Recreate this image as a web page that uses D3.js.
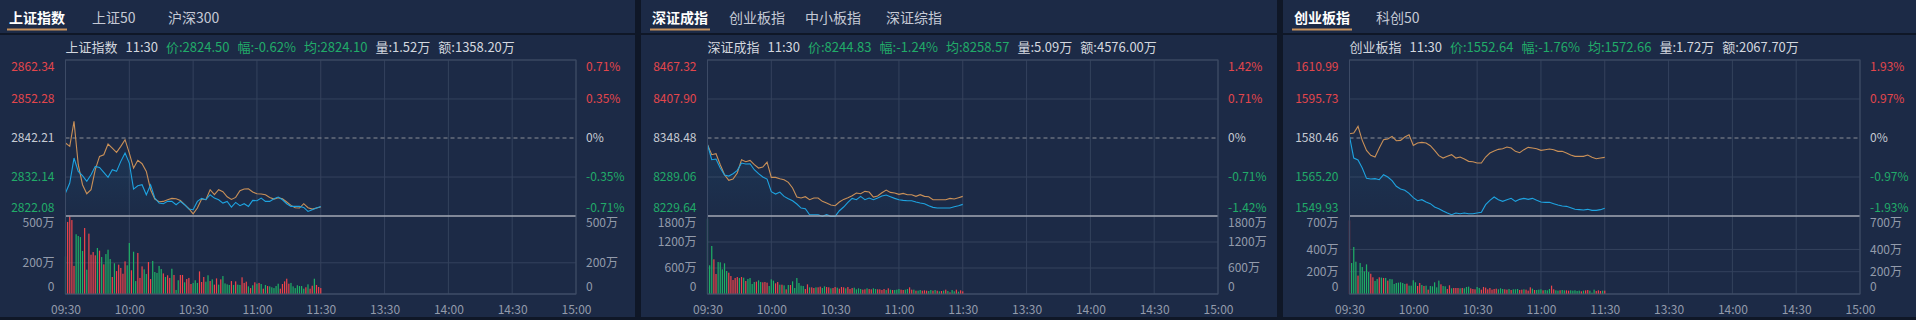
<!DOCTYPE html>
<html>
<head>
<meta charset="utf-8">
<script src="https://cdn.jsdelivr.net/npm/d3@7"></script>
<style>
  body { margin: 0; background: #0f1727; overflow: hidden; }
  svg { display: block; font-family: "Noto Sans CJK SC", "Noto Sans", sans-serif; }
</style>
</head>
<body>
<script>
const width = 1916;
const height = 320;

// shared time axis (minutes from 09:30, lunch break removed)
const timeTicks = [0, 30, 60, 90, 120, 150, 180, 210, 240];
const timeLabels = ["09:30", "10:00", "10:30", "11:00", "11:30", "13:30", "14:00", "14:30", "15:00"];

// ---- 上证指数 ----
const shTabs = ["上证指数", "上证50", "沪深300"];
const shInfo = ["上证指数", "11:30", "价:2824.50", "幅:-0.62%", "均:2824.10", "量:1.52万", "额:1358.20万"];
const shPriceTicks = [2822.08, 2832.14, 2842.21, 2852.28, 2862.34];
const shPctTicks = ["-0.71%", "-0.35%", "0%", "0.35%", "0.71%"];
const shVolTicks = [0, 200, 500];
// every 2 minutes
const shPrice = [2828.00, 2830.58, 2837.04, 2833.60, 2832.48, 2831.01, 2832.73, 2834.89, 2834.63, 2833.34,
  2832.05, 2834.03, 2833.60, 2836.18, 2838.33, 2835.75, 2829.03, 2829.89, 2830.15, 2827.57,
  2830.15, 2826.71, 2825.42, 2825.25, 2825.85, 2825.85, 2824.99, 2825.85, 2824.99, 2823.87,
  2823.70, 2825.85, 2826.62, 2826.28, 2827.57, 2826.71, 2826.28, 2825.42, 2825.85, 2824.39,
  2825.59, 2824.73, 2825.25, 2824.56, 2826.11, 2826.02, 2826.71, 2825.85, 2825.85, 2826.54,
  2826.97, 2826.28, 2825.25, 2824.56, 2824.56, 2824.56, 2824.30, 2823.27, 2823.70, 2824.13, 2824.56];
const shAvg = [2840.91, 2840.05, 2846.51, 2835.32, 2830.15, 2827.83, 2828.86, 2834.03, 2837.47, 2837.90,
  2840.65, 2839.62, 2838.50, 2840.05, 2841.77, 2838.33, 2834.46, 2836.44, 2835.57, 2833.60,
  2828.86, 2826.45, 2825.76, 2825.85, 2826.28, 2826.62, 2826.54, 2826.11, 2824.99, 2823.96,
  2822.66, 2824.13, 2826.45, 2826.28, 2828.86, 2827.57, 2828.86, 2828.34, 2827.05, 2826.36,
  2826.88, 2828.60, 2829.03, 2829.12, 2828.26, 2827.83, 2827.74, 2827.57, 2826.88, 2826.45,
  2826.79, 2826.54, 2825.68, 2824.82, 2824.21, 2824.13, 2825.25, 2824.21, 2823.87, 2824.13, 2824.39];
// per minute, 万
const shVol = [241, 462, 498, 474, 180, 383, 372, 365, 276, 423,
  156, 387, 252, 269, 248, 295, 278, 237, 190, 256,
  284, 224, 109, 197, 147, 188, 167, 130, 209, 184,
  327, 152, 271, 83, 263, 103, 177, 158, 128, 205,
  96, 212, 141, 135, 180, 160, 132, 109, 120, 103,
  162, 122, 26, 88, 122, 122, 75, 96, 103, 64,
  71, 88, 71, 145, 77, 109, 79, 120, 83, 94,
  60, 100, 60, 94, 115, 68, 62, 58, 83, 58,
  81, 60, 58, 107, 71, 79, 49, 38, 56, 75,
  66, 71, 64, 34, 58, 51, 49, 43, 38, 51,
  66, 34, 64, 81, 98, 66, 71, 49, 38, 56,
  51, 51, 34, 43, 62, 34, 53, 98, 58, 45,
  38];
const shDir = "grrrrggggr" + "grrrrgrgrg" + "ggrgrrrrrg" + "grggrrrggr" + "rgggggrgrr" + "grggrrgrrr" +
  "gggrrrggrg" + "rrgrggggrg" + "rggrrrgrgr" + "grgrgrgggg" + "grrrrrgggg" + "gggrgrrgrr" + "r";

// ---- 深证成指 ----
const szTabs = ["深证成指", "创业板指", "中小板指", "深证综指"];
const szInfo = ["深证成指", "11:30", "价:8244.83", "幅:-1.24%", "均:8258.57", "量:5.09万", "额:4576.00万"];
const szPriceTicks = [8229.64, 8289.06, 8348.48, 8407.90, 8467.32];
const szPctTicks = ["-1.42%", "-0.71%", "0%", "0.71%", "1.42%"];
const szVolTicks = [0, 600, 1200, 1800];
const szPrice = [8338.26, 8315.41, 8316.42, 8302.71, 8292.04, 8290.52, 8294.08, 8299.16, 8310.33, 8308.81,
  8309.31, 8300.17, 8294.08, 8289.00, 8285.95, 8266.65, 8263.09, 8266.14, 8259.54, 8255.98,
  8252.94, 8247.86, 8241.76, 8240.75, 8231.60, 8231.60, 8231.60, 8229.07, 8231.60, 8229.07,
  8229.07, 8237.70, 8243.29, 8250.40, 8256.49, 8254.46, 8259.54, 8254.46, 8257.00, 8254.46,
  8257.00, 8260.05, 8261.57, 8259.03, 8256.49, 8254.46, 8253.45, 8252.94, 8252.94, 8250.91,
  8249.38, 8248.37, 8245.32, 8242.78, 8241.76, 8241.76, 8241.76, 8241.76, 8243.79, 8245.32, 8247.35];
const szAvg = [8338.26, 8323.03, 8324.55, 8307.79, 8292.55, 8283.92, 8285.95, 8295.09, 8315.41, 8312.36,
  8314.39, 8307.79, 8302.71, 8304.23, 8311.85, 8288.49, 8288.49, 8286.46, 8284.93, 8280.87,
  8272.24, 8258.52, 8257.00, 8259.03, 8254.46, 8257.00, 8257.00, 8251.92, 8249.38, 8246.33,
  8245.32, 8250.91, 8254.97, 8257.51, 8260.56, 8264.62, 8263.61, 8267.16, 8266.15, 8258.52,
  8260.05, 8265.13, 8269.19, 8265.63, 8264.62, 8262.59, 8264.11, 8262.08, 8262.08, 8259.54,
  8262.08, 8259.54, 8259.03, 8254.46, 8254.46, 8254.46, 8254.46, 8256.49, 8255.48, 8257.51, 8259.54];
const szVol = [1738, 662, 1108, 800, 462, 738, 731, 569, 708, 531,
  492, 415, 323, 369, 392, 369, 392, 377, 300, 346,
  369, 231, 277, 285, 315, 277, 269, 277, 262, 185,
  338, 308, 246, 277, 215, 215, 200, 108, 208, 208,
  292, 138, 369, 254, 192, 185, 115, 223, 154, 154,
  138, 154, 154, 169, 138, 177, 162, 154, 131, 138,
  162, 146, 123, 162, 154, 131, 162, 115, 138, 146,
  108, 131, 115, 100, 108, 131, 115, 108, 131, 115,
  108, 108, 92, 115, 92, 131, 100, 92, 92, 100,
  115, 100, 92, 100, 115, 154, 100, 100, 77, 77,
  92, 77, 85, 77, 69, 92, 77, 92, 77, 62,
  69, 77, 100, 69, 38, 92, 62, 100, 54, 85,
  62];
const szDir = "gggrrggggg" + "rrrrrgrgrg" + "gggrggrrrg" + "ggrrgrgrgr" + "ggggggrrgr" + "rgrrggrrgr" +
  "rgrrrgrrrg" + "gggrrgrrgg" + "rrrrgrgrgg" + "grrggrrgrg" + "grrrggrgrg" + "rgrgrggrgr" + "r";

// ---- 创业板指 ----
const cyTabs = ["创业板指", "科创50"];
const cyInfo = ["创业板指", "11:30", "价:1552.64", "幅:-1.76%", "均:1572.66", "量:1.72万", "额:2067.70万"];
const cyPriceTicks = [1549.93, 1565.20, 1580.46, 1595.73, 1610.99];
const cyPctTicks = ["-1.93%", "-0.97%", "0%", "0.97%", "1.93%"];
const cyVolTicks = [0, 200, 400, 700];
const cyPrice = [1581.10, 1572.62, 1571.84, 1568.71, 1564.67, 1564.41, 1564.54, 1564.15, 1566.10, 1565.19,
  1563.76, 1561.54, 1560.50, 1559.97, 1558.80, 1557.10, 1555.93, 1556.32, 1555.41, 1554.76,
  1553.45, 1552.80, 1551.89, 1551.10, 1550.45, 1551.10, 1550.84, 1551.10, 1550.84, 1550.84,
  1551.10, 1551.37, 1554.36, 1556.06, 1557.36, 1556.32, 1555.67, 1556.32, 1556.84, 1555.67,
  1556.45, 1556.84, 1556.45, 1556.84, 1556.06, 1555.41, 1555.28, 1555.28, 1554.76, 1554.23,
  1553.84, 1553.71, 1553.19, 1552.54, 1552.41, 1552.28, 1552.54, 1552.15, 1552.15, 1552.41, 1552.93];
const cyAvg = [1582.15, 1582.41, 1585.02, 1579.54, 1575.62, 1573.67, 1573.02, 1576.54, 1579.80, 1580.06,
  1581.10, 1579.41, 1579.54, 1580.84, 1581.75, 1577.58, 1578.49, 1578.75, 1578.49, 1577.45,
  1575.62, 1573.54, 1572.62, 1573.28, 1573.93, 1572.62, 1573.02, 1572.23, 1571.32, 1571.19,
  1570.67, 1570.67, 1573.02, 1574.58, 1575.36, 1576.02, 1576.28, 1576.93, 1576.54, 1575.23,
  1574.71, 1575.89, 1576.80, 1576.54, 1576.28, 1575.62, 1575.89, 1576.15, 1575.89, 1575.23,
  1575.23, 1574.58, 1573.80, 1573.28, 1573.28, 1573.28, 1573.80, 1572.89, 1572.37, 1572.63, 1572.89];
const cyVol = [661, 278, 422, 290, 165, 278, 242, 203, 266, 197,
  182, 150, 117, 135, 150, 147, 144, 144, 120, 135,
  132, 90, 99, 102, 105, 99, 90, 93, 75, 75,
  123, 105, 72, 99, 81, 72, 75, 39, 72, 69,
  105, 60, 120, 87, 72, 69, 45, 78, 51, 54,
  54, 54, 51, 54, 51, 63, 66, 51, 45, 42,
  63, 54, 39, 63, 57, 42, 54, 39, 45, 48,
  42, 51, 45, 42, 39, 45, 36, 42, 42, 45,
  36, 39, 42, 39, 30, 60, 48, 36, 36, 39,
  42, 33, 36, 33, 45, 75, 42, 33, 30, 33,
  36, 33, 33, 30, 33, 30, 33, 27, 30, 24,
  30, 33, 36, 30, 12, 39, 27, 33, 27, 30,
  30];
const cyDir = "rgggrggggg" + "rrggrgrgrg" + "gggggggrgg" + "ggrrgrgrgg" + "gggrggrrgr" + "rrgrgggrrr" +
  "ggrrrrrrrr" + "gggrrgrggg" + "rrgrrrgrgg" + "grgggrrggr" + "ggrrgggggr" + "grrgggrrrg" + "r";

const RED = "#ef444b", GREEN = "#1fb066", TXT_RED = "#e3464c", TXT_GREEN = "#21ab69";
const GRID = "#34425d", AXIS_TXT = "#939bab";

const svg = d3.select("body").append("svg")
  .attr("width", width)
  .attr("height", height);

svg.append("rect").attr("width", width).attr("height", height).attr("fill", "#0f1727");

// tabX: where each tab label starts inside its panel
const panels = [
  { x0: -1, tabs: shTabs, tabX: [10, 93, 169], info: shInfo, priceTicks: shPriceTicks, pct: shPctTicks,
    volTicks: shVolTicks, price: shPrice, avg: shAvg, vol: shVol, dir: shDir },
  { x0: 641, tabs: szTabs, tabX: [11, 88, 164, 245], info: szInfo, priceTicks: szPriceTicks, pct: szPctTicks,
    volTicks: szVolTicks, price: szPrice, avg: szAvg, vol: szVol, dir: szDir },
  { x0: 1283, tabs: cyTabs, tabX: [11, 93], info: cyInfo, priceTicks: cyPriceTicks, pct: cyPctTicks,
    volTicks: cyVolTicks, price: cyPrice, avg: cyAvg, vol: cyVol, dir: cyDir }
];

const defs = svg.append("defs");
const grad = defs.append("linearGradient").attr("id", "areaGrad")
  .attr("x1", 0).attr("y1", 0).attr("x2", 0).attr("y2", 1);
grad.append("stop").attr("offset", "0%").attr("stop-color", "#1e9fdc").attr("stop-opacity", 0.09);
grad.append("stop").attr("offset", "100%").attr("stop-color", "#1e9fdc").attr("stop-opacity", 0.01);

panels.forEach(drawPanel);

function drawPanel(p) {
  const g = svg.append("g").attr("transform", `translate(${p.x0},0)`);
  const pw = 636;
  const top = 60, mid = 216, bottom = 294;

  g.append("rect").attr("width", pw).attr("height", 317).attr("fill", "#1c2a46");
  g.append("rect").attr("y", 33).attr("width", pw).attr("height", 2).attr("fill", "#0f1727");

  // tabs
  p.tabs.forEach((t, i) => {
    const tx = p.tabX[i];
    const txt = g.append("text")
      .attr("x", tx).attr("y", 17)
      .attr("dominant-baseline", "central")
      .style("font-size", "14px")
      .style("font-weight", i === 0 ? "bold" : "normal")
      .style("fill", i === 0 ? "#ffffff" : "#c4c9d5")
      .text(t);
    if (i === 0) {
      const w = txt.node().getComputedTextLength();
      g.append("rect").attr("x", tx - 2).attr("y", 28.5).attr("width", w + 4).attr("height", 2)
        .attr("fill", "#c8915b");
    }
  });

  // info line
  let ix = 66.5;
  p.info.forEach((t, i) => {
    const txt = g.append("text")
      .attr("x", ix).attr("y", 46)
      .attr("dominant-baseline", "central")
      .style("font-size", "13px")
      .style("fill", i >= 2 && i <= 4 ? TXT_GREEN : "#d3d7df")
      .text(t);
    ix += txt.node().getComputedTextLength() + 8;
  });

  const x = d3.scaleLinear().domain([0, 240]).range([66.5, 577]);
  const y = d3.scaleLinear().domain([p.priceTicks[0], p.priceTicks[4]]).range([mid, top]);
  const yv = d3.scaleLinear().domain([0, d3.max(p.volTicks)]).range([bottom, mid]);
  const preClose = p.priceTicks[2];

  // grid
  const grid = g.append("g").attr("fill", "none");
  grid.selectAll(".vg").data(timeTicks).enter().append("line")
    .attr("x1", d => x(d)).attr("x2", d => x(d))
    .attr("y1", top).attr("y2", bottom)
    .attr("stroke", GRID).attr("stroke-width", 1);
  grid.selectAll(".hg").data(p.priceTicks.filter(d => d !== preClose && d !== p.priceTicks[0])).enter().append("line")
    .attr("x1", x(0)).attr("x2", x(240))
    .attr("y1", d => y(d)).attr("y2", d => y(d))
    .attr("stroke", GRID);
  grid.selectAll(".vh").data(p.volTicks.slice(1, -1)).enter().append("line")
    .attr("x1", x(0)).attr("x2", x(240))
    .attr("y1", d => yv(d)).attr("y2", d => yv(d))
    .attr("stroke", GRID);
  grid.append("line")
    .attr("x1", x(0)).attr("x2", x(240)).attr("y1", y(preClose)).attr("y2", y(preClose))
    .attr("stroke", "#8a8e96").attr("stroke-dasharray", "4,3");
  grid.append("line")
    .attr("x1", x(0)).attr("x2", x(240)).attr("y1", bottom).attr("y2", bottom)
    .attr("stroke", "#45536e");

  // volume bars
  g.append("g").selectAll("rect").data(p.vol).enter().append("rect")
    .attr("x", (d, i) => x(i) - 0.6)
    .attr("width", 1.2)
    .attr("y", d => yv(d))
    .attr("height", d => bottom - yv(d))
    .attr("fill", (d, i) => p.dir[i] === "r" ? RED : GREEN);

  // price area + lines
  const area = d3.area().x((d, i) => x(i * 2)).y0(mid).y1(d => y(d));
  g.append("path").datum(p.price).attr("d", area).attr("fill", "url(#areaGrad)");

  const line = d3.line().x((d, i) => x(i * 2)).y(d => y(d));
  g.append("path").datum(p.avg).attr("d", line)
    .attr("fill", "none").attr("stroke", "#c99058").attr("stroke-width", 1.1);
  g.append("path").datum(p.price).attr("d", line)
    .attr("fill", "none").attr("stroke", "#1ea3e0").attr("stroke-width", 1.1);

  // separator between price and volume
  g.append("line")
    .attr("x1", x(0)).attr("x2", x(240)).attr("y1", mid).attr("y2", mid)
    .attr("stroke", "#a3a9b4").attr("stroke-width", 1.3);

  const priceColor = d => d > preClose ? TXT_RED : (d < preClose ? TXT_GREEN : "#c7cbd3");

  // price axes
  const left = g.append("g").attr("transform", `translate(${x(0)},0)`)
    .call(d3.axisLeft(y).tickValues(p.priceTicks).tickSize(0).tickPadding(11).tickFormat(d => d.toFixed(2)));
  const right = g.append("g").attr("transform", `translate(${x(240)},0)`)
    .call(d3.axisRight(y).tickValues(p.priceTicks).tickSize(0).tickPadding(10).tickFormat((d, i) => p.pct[i]));
  [left, right].forEach(ax => {
    ax.select(".domain").remove();
    ax.attr("font-family", null).attr("font-size", null);
    ax.selectAll("text")
      .style("font-size", "12px")
      .style("fill", d => priceColor(d))
      .attr("transform", (d, i) => i === 0 ? "translate(0,-8)" : (i === 4 ? "translate(0,6.5)" : null));
  });

  // volume axes
  const vfmt = d => d === 0 ? "0" : d + "万";
  const last = p.volTicks.length - 1;
  const vl = g.append("g").attr("transform", `translate(${x(0)},0)`)
    .call(d3.axisLeft(yv).tickValues(p.volTicks).tickSize(0).tickPadding(11).tickFormat(vfmt));
  const vr = g.append("g").attr("transform", `translate(${x(240)},0)`)
    .call(d3.axisRight(yv).tickValues(p.volTicks).tickSize(0).tickPadding(10).tickFormat(vfmt));
  [vl, vr].forEach(ax => {
    ax.select(".domain").remove();
    ax.attr("font-family", null).attr("font-size", null);
    ax.selectAll("text")
      .style("font-size", "12px")
      .style("fill", AXIS_TXT)
      .attr("transform", (d, i) => i === 0 ? "translate(0,-7.3)" : (i === last ? "translate(0,6.7)" : null));
  });

  // time axis
  const tx2 = g.append("g").attr("transform", `translate(0,${bottom})`)
    .call(d3.axisBottom(x).tickValues(timeTicks).tickSize(0).tickPadding(11).tickFormat((d, i) => timeLabels[i]));
  tx2.select(".domain").remove();
  tx2.attr("font-family", null).attr("font-size", null);
  tx2.selectAll("text").style("font-size", "12px").style("fill", AXIS_TXT);

  // outer frame
  g.append("rect")
    .attr("x", x(0)).attr("y", top).attr("width", x(240) - x(0)).attr("height", bottom - top)
    .attr("fill", "none").attr("stroke", "#3c4a65");
}
</script>
</body>
</html>
